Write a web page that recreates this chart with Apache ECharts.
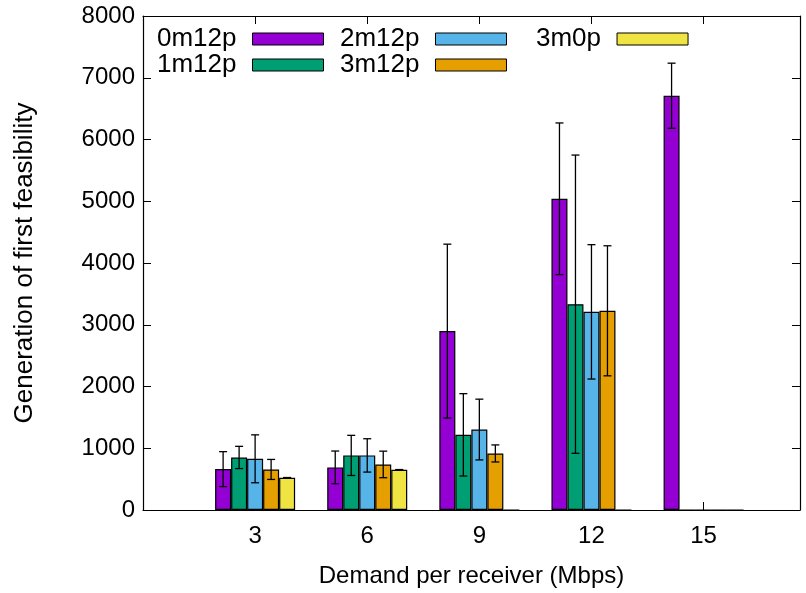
<!DOCTYPE html>
<html>
<head>
<meta charset="utf-8">
<script src="https://cdn.jsdelivr.net/npm/echarts@6/dist/echarts.min.js"></script>
<style>html,body{margin:0;padding:0;background:#fff}#c{width:806px;height:593px}</style>
</head>
<body>
<div id="c"></div>
<script>
var categories = ['3', '6', '9', '12', '15'];
var seriesNames = ['0m12p', '1m12p', '2m12p', '3m12p', '3m0p'];
var v0m12p = [662, 690, 2897, 5040, 6709];
var e0m12p = [283, 265, 1408, 1228, 527];
var v1m12p = [851, 884, 1217, 3333, 0];
var e1m12p = [180, 325, 667, 2415, 0];
var v2m12p = [829, 884, 1303, 3209, 0];
var e2m12p = [388, 270, 492, 1088, 0];
var v3m12p = [657, 738, 916, 3226, 0];
var e3m12p = [162, 215, 138, 1053, 0];
var v3m0p = [522, 651, 0, 0, 0];
var e3m0p = [4, 4, 0, 0, 0];
var yTicks = [0, 1000, 2000, 3000, 4000, 5000, 6000, 7000, 8000];

var values = [v0m12p, v1m12p, v2m12p, v3m12p, v3m0p];
var errors = [e0m12p, e1m12p, e2m12p, e3m12p, e3m0p];
var colors = ['#9400d3', '#009e73', '#56b4e9', '#e69f00', '#f0e442'];
var FONT = 'Liberation Sans';
var FS = 24;
var BARW = 16;

var chart = echarts.init(document.getElementById('c'), null, {renderer: 'canvas'});
var series = [];
values.forEach(function (vals, i) {
  series.push({
    name: seriesNames[i],
    type: 'bar',
    xAxisIndex: 0, yAxisIndex: 0,
    barWidth: BARW,
    barGap: '0%',
    itemStyle: {color: colors[i], borderColor: '#000', borderWidth: 1.2},
    data: vals.map(function (v, k) { return [k, v]; }),
    z: 2
  });
});
values.forEach(function (vals, i) {
  series.push({
    type: 'custom',
    xAxisIndex: 0, yAxisIndex: 0,
    z: 5,
    silent: true,
    data: vals.map(function (v, k) { return [k, v, errors[i][k]]; }),
    renderItem: function (params, api) {
      var x = api.value(0), y = api.value(1), e = api.value(2);
      if (!(e > 0)) return;
      var off = (i - 2) * BARW;
      var pt = api.coord([x, y + e]);
      var pb = api.coord([x, y - e]);
      var cx = pt[0] + off;
      var st = {stroke: '#000', lineWidth: 1.3};
      return {
        type: 'group',
        children: [
          {type: 'line', shape: {x1: cx, y1: pt[1], x2: cx, y2: pb[1]}, style: st},
          {type: 'line', shape: {x1: cx - 4, y1: pt[1], x2: cx + 4, y2: pt[1]}, style: st},
          {type: 'line', shape: {x1: cx - 4, y1: pb[1], x2: cx + 4, y2: pb[1]}, style: st}
        ]
      };
    }
  });
});

function xLabel(v) {
  var k = Math.round(v);
  if (Math.abs(v - k) > 1e-6 || k < 0 || k >= categories.length) return '';
  return categories[k];
}

var legendCommon = {
  orient: 'vertical',
  align: 'right',
  itemWidth: 71,
  itemHeight: 12,
  itemGap: 0,
  icon: 'rect',
  itemStyle: {borderColor: '#000', borderWidth: 1},
  textStyle: {fontFamily: FONT, fontSize: 26, color: '#000', lineHeight: 25.5, padding: [0, 11, 0, 0]},
  selectedMode: false
};

var lineSt = {color: '#000', width: 1.2};
chart.setOption({
  animation: false,
  backgroundColor: '#fff',
  color: colors,
  textStyle: {fontFamily: FONT},
  legend: [
    Object.assign({}, legendCommon, {data: ['0m12p', '1m12p'], left: 152, top: 21}),
    Object.assign({}, legendCommon, {data: ['2m12p', '3m12p'], left: 335, top: 21}),
    Object.assign({}, legendCommon, {data: ['3m0p'], left: 531, top: 21})
  ],
  grid: {left: 143, right: 6, top: 16, bottom: 81},
  xAxis: [{
    type: 'value', min: -1, max: 4.86, interval: 1,
    name: 'Demand per receiver (Mbps)', nameLocation: 'middle', nameGap: 54,
    nameTextStyle: {fontFamily: FONT, fontSize: FS, color: '#000'},
    axisLine: {show: true, onZero: false, lineStyle: lineSt},
    axisTick: {show: true, inside: true, length: 8, lineStyle: {color: '#000'}},
    axisLabel: {formatter: xLabel, fontFamily: FONT, fontSize: FS, color: '#000', margin: 14, showMinLabel: true, showMaxLabel: true},
    splitLine: {show: false}
  }, {
    type: 'value', min: -1, max: 4.86, interval: 1, position: 'top',
    axisLine: {show: true, onZero: false, lineStyle: lineSt},
    axisTick: {show: true, inside: true, length: 8, lineStyle: {color: '#000'}},
    axisLabel: {show: false},
    splitLine: {show: false}
  }],
  yAxis: [{
    type: 'value', min: yTicks[0], max: yTicks[yTicks.length - 1], interval: 1000,
    name: 'Generation of first feasibility', nameLocation: 'middle', nameGap: 105,
    nameTextStyle: {fontFamily: FONT, fontSize: 26, color: '#000'},
    axisLine: {show: true, onZero: false, lineStyle: lineSt},
    axisTick: {show: true, inside: true, length: 8, lineStyle: {color: '#000'}},
    axisLabel: {formatter: function (v) { return String(v); }, fontFamily: FONT, fontSize: FS, color: '#000', margin: 8},
    splitLine: {show: false}
  }, {
    type: 'value', min: yTicks[0], max: yTicks[yTicks.length - 1], interval: 1000, position: 'right',
    axisLine: {show: true, onZero: false, lineStyle: lineSt},
    axisTick: {show: true, inside: true, length: 8, lineStyle: {color: '#000'}},
    axisLabel: {show: false},
    splitLine: {show: false}
  }],
  series: series
});
</script>
</body>
</html>
